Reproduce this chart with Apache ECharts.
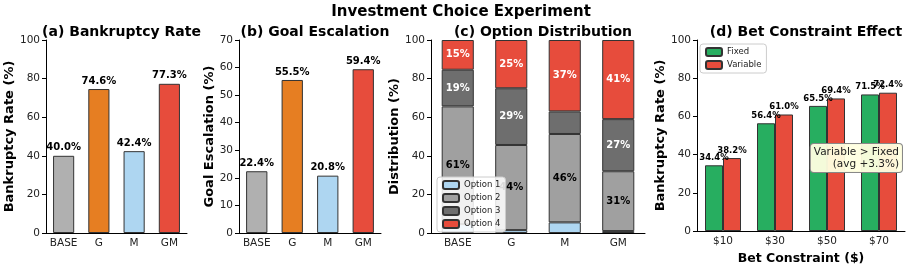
<!DOCTYPE html>
<html>
<head>
<meta charset="utf-8">
<script src="https://cdn.jsdelivr.net/npm/echarts@6/dist/echarts.min.js"></script>
<style>
html,body{margin:0;padding:0;background:#fff;}
#chart{width:913px;height:270px;}
</style>
</head>
<body>
<div id="chart"></div>
<script>
// ---- data ----
const mainTitle = 'Investment Choice Experiment';
const panelTitles = ['(a) Bankruptcy Rate', '(b) Goal Escalation', '(c) Option Distribution', '(d) Bet Constraint Effect'];
const conditions = ['BASE', 'G', 'M', 'GM'];
const bankruptcyRate = [40.0, 74.6, 42.4, 77.3];
const goalEscalation = [22.4, 55.5, 20.8, 59.4];
const optionNames = ['Option 1', 'Option 2', 'Option 3', 'Option 4'];
const option1 = [4.6, 1.5, 5.5, 1.0];
const option2 = [61.0, 44.1, 45.8, 31.0];
const option3 = [19.0, 29.4, 11.7, 27.0];
const option4 = [15.4, 25.0, 37.0, 41.0];
const betConstraints = ['$10', '$30', '$50', '$70'];
const fixedRate = [34.4, 56.4, 65.5, 71.5];
const variableRate = [38.2, 61.0, 69.4, 72.4];

// ---- style ----
const FONT = 'DejaVu Sans';
const condColors = ['#b0b0b0', '#e67e22', '#aed6f1', '#e74c3c'];
const optColors = ['#aed6f1', '#a0a0a0', '#6e6e6e', '#e74c3c'];
const optLabelColors = ['#000', '#000', '#fff', '#fff'];
const EDGE = '#333';

const grids = [
  {left: 46, top: 40, width: 141, bottom: 37},
  {left: 239, top: 40, width: 142, bottom: 37},
  {left: 431, top: 40, width: 214, bottom: 37},
  {left: 697, top: 40, width: 208, bottom: 37}
];

function xAxis(i, data, extra) {
  return Object.assign({
    type: 'category', gridIndex: i, data: data,
    axisLine: {lineStyle: {color: '#000', width: 1}},
    axisTick: {alignWithLabel: true, length: 4, lineStyle: {color: '#000'}},
    axisLabel: {interval: 0, fontFamily: FONT, fontSize: 10.5, color: '#222', margin: 5},
    splitLine: {show: false}
  }, extra || {});
}
function yAxis(i, max, interval, name, gap) {
  return {
    type: 'value', gridIndex: i, min: 0, max: max, interval: interval,
    axisLine: {show: true, lineStyle: {color: '#000', width: 1}},
    axisTick: {show: true, length: 4, lineStyle: {color: '#000'}},
    axisLabel: {fontFamily: FONT, fontSize: 10.5, color: '#222', margin: 6},
    splitLine: {show: false},
    name: name, nameLocation: 'middle', nameGap: gap,
    nameTextStyle: {fontFamily: FONT, fontWeight: 'bold', fontSize: 13, color: '#000'}
  };
}

const topLabel = (size) => ({
  show: true, position: 'top', distance: 3,
  fontFamily: FONT, fontWeight: 'bold', fontSize: size, color: '#000',
  formatter: p => Number(p.value).toFixed(1) + '%'
});

const series = [];
series.push({
  type: 'bar', xAxisIndex: 0, yAxisIndex: 0, data: bankruptcyRate, barWidth: '60%',
  itemStyle: {color: p => condColors[p.dataIndex], borderColor: EDGE, borderWidth: 1},
  label: topLabel(10)
});
series.push({
  type: 'bar', xAxisIndex: 1, yAxisIndex: 1, data: goalEscalation, barWidth: '60%',
  itemStyle: {color: p => condColors[p.dataIndex], borderColor: EDGE, borderWidth: 1},
  label: topLabel(10)
});
[option1, option2, option3, option4].forEach((arr, k) => {
  series.push({
    type: 'bar', name: optionNames[k], xAxisIndex: 2, yAxisIndex: 2, stack: 'opt', data: arr, barWidth: '60%',
    itemStyle: {color: optColors[k], borderColor: EDGE, borderWidth: 1},
    label: {
      show: true, position: 'inside', fontFamily: FONT, fontWeight: 'bold', fontSize: 10,
      color: optLabelColors[k],
      formatter: p => p.value > 12 ? Math.round(p.value) + '%' : ''
    }
  });
});
series.push({
  type: 'bar', name: 'Fixed', xAxisIndex: 3, yAxisIndex: 3, data: fixedRate, barWidth: 18, barGap: '0%',
  itemStyle: {color: '#27ae60', borderColor: EDGE, borderWidth: 1},
  label: topLabel(8.5)
});
series.push({
  type: 'bar', name: 'Variable', xAxisIndex: 3, yAxisIndex: 3, data: variableRate, barWidth: 18, barGap: '0%',
  itemStyle: {color: '#e74c3c', borderColor: EDGE, borderWidth: 1},
  label: topLabel(8.5)
});

const avgDiff = variableRate.reduce((s, v, i) => s + (v - fixedRate[i]), 0) / variableRate.length;

const titleCenters = grids.map(g => g.left + g.width / 2);
const titles = [{
  text: mainTitle, left: 456, top: 0, textAlign: 'center',
  textStyle: {fontFamily: FONT, fontWeight: 'bold', fontSize: 15, color: '#000'}
}];
panelTitles.forEach((t, i) => titles.push({
  text: t, left: titleCenters[i], top: 20, textAlign: 'center',
  textStyle: {fontFamily: FONT, fontWeight: 'bold', fontSize: 14, color: '#000'}
}));

const legendBase = {
  orient: 'vertical', itemWidth: 16, itemHeight: 8, itemGap: 3,
  backgroundColor: 'rgba(255,255,255,0.85)', borderColor: '#ccc', borderWidth: 1, borderRadius: 3,
  padding: [3, 5, 3, 5],
  textStyle: {fontFamily: FONT, fontSize: 8.5, color: '#222'}
};

const option = {
  animation: false,
  backgroundColor: '#fff',
  title: titles,
  grid: grids,
  xAxis: [
    xAxis(0, conditions), xAxis(1, conditions), xAxis(2, conditions),
    xAxis(3, betConstraints, {
      name: 'Bet Constraint ($)', nameLocation: 'middle', nameGap: 21,
      nameTextStyle: {fontFamily: FONT, fontWeight: 'bold', fontSize: 12.5, color: '#000'}
    })
  ],
  yAxis: [
    yAxis(0, 100, 20, 'Bankruptcy Rate (%)', 21),
    yAxis(1, 70, 10, 'Goal Escalation (%)', 15),
    yAxis(2, 100, 20, 'Distribution (%)', 16),
    yAxis(3, 100, 20, 'Bankruptcy Rate (%)', 19)
  ],
  legend: [
    Object.assign({}, legendBase, {data: optionNames, left: 437, top: 177}),
    Object.assign({}, legendBase, {data: ['Fixed', 'Variable'], left: 700, top: 44})
  ],
  series: series,
  graphic: [{
    type: 'text', right: 10, top: 143, z: 100,
    style: {
      text: 'Variable > Fixed\n(avg +' + avgDiff.toFixed(1) + '%)',
      align: 'right', textAlign: 'right', fontFamily: FONT, fontSize: 10.5, lineHeight: 12, fill: '#222',
      backgroundColor: 'rgba(255,255,224,0.95)', borderColor: '#888', borderWidth: 1,
      borderRadius: 3, padding: [2, 3, 2, 3]
    }
  }]
};

const chart = echarts.init(document.getElementById('chart'), null, {renderer: 'canvas'});
chart.setOption(option);
</script>
</body>
</html>
